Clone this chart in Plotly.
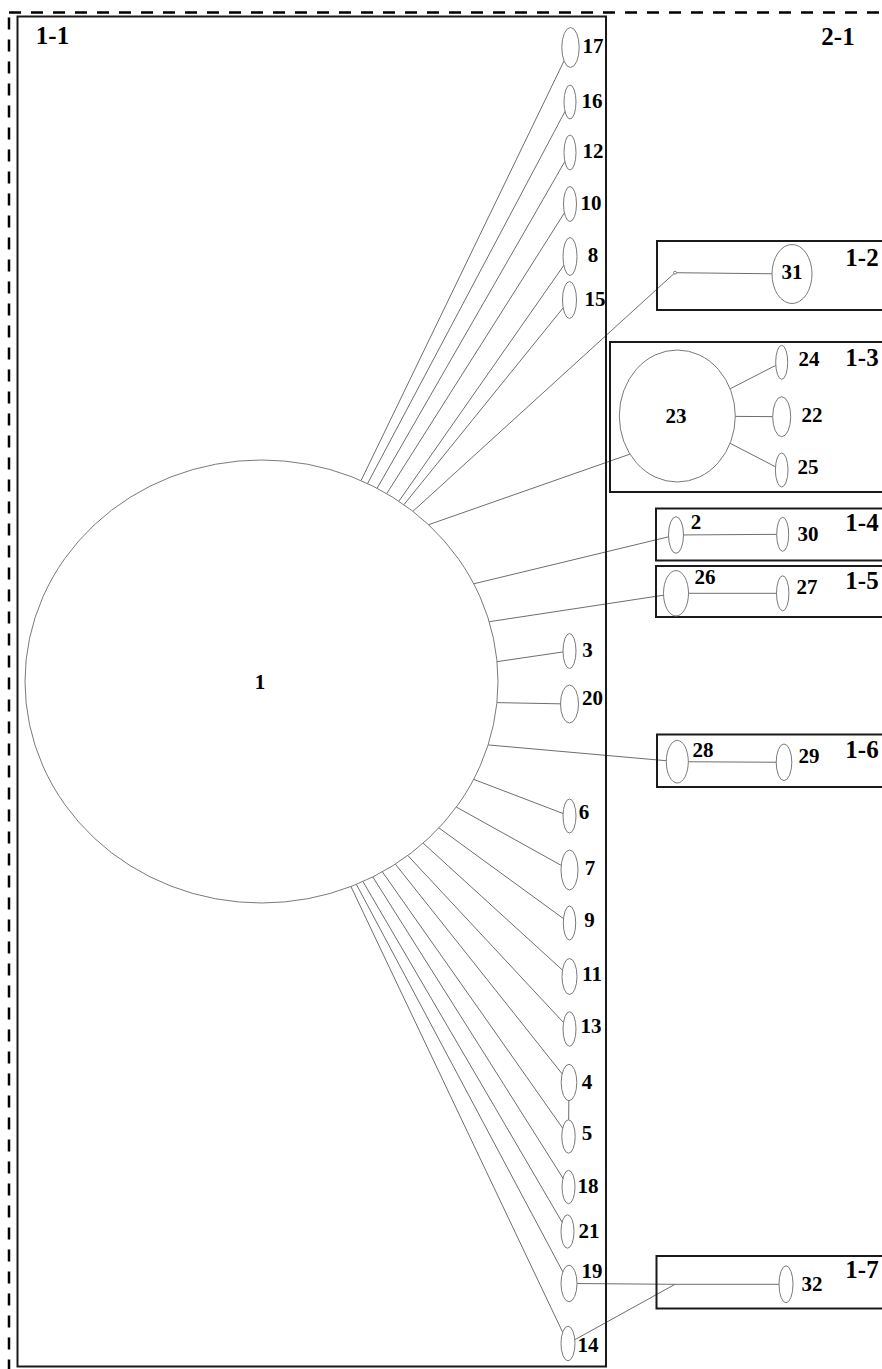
import math
import plotly.graph_objects as go

# ---------------- data ----------------
node_ids = ["1", "17", "16", "12", "10", "8", "15", "3", "20", "6", "7", "9", "11", "13",
            "4", "5", "18", "21", "19", "14",
            "p12", "31", "23", "24", "22", "25", "2", "30", "26", "27", "28", "29", "p17", "32"]
node_labels = ["1", "17", "16", "12", "10", "8", "15", "3", "20", "6", "7", "9", "11", "13",
               "4", "5", "18", "21", "19", "14",
               "", "31", "23", "24", "22", "25", "2", "30", "26", "27", "28", "29", "", "32"]

# hub edges: (target, leaving angle on hub ellipse in degrees)
hub_targets = ["17", "16", "12", "10", "8", "15", "p12", "23", "2", "26", "3", "20", "28",
               "6", "7", "9", "11", "13", "4", "5", "18", "21", "19", "14"]
hub_angles = [-65.1, -63.35, -60.74, -58.03, -54.48, -52.97, -50.2, -45.06, -26.17, -15.66,
              -5.14, 5.47, 16.64, 26.22, 34.53, 41.38, 46.87, 51.79, 55.53, 59.26, 61.93,
              64.59, 66.34, 67.78]
hub_end_angle = {"23": 144.7}

# other edges
edges = [("p12", "31"), ("23", "24"), ("23", "22"), ("23", "25"), ("2", "30"),
         ("26", "27"), ("28", "29"), ("4", "5"), ("19", "p17"), ("14", "p17"), ("p17", "32")]

# group boxes
group_names = ["1-2", "1-3", "1-4", "1-5", "1-6", "1-7"]

# ---------------- layout (positions / sizes) ----------------
node_x = [261.5, 570.5, 570, 570, 570, 570, 569.5, 569.5, 569.5, 569.5, 569.5, 569.5, 569.5, 569.5,
          569, 568.5, 568.5, 567.5, 569, 568,
          675, 792, 677.3, 781.7, 781.7, 781.7, 676, 782.7, 676, 782.7, 677.3, 784, 675, 786]
node_y = [681.5, 47.5, 102, 152.5, 204, 256.5, 300, 651, 704, 816, 870, 923, 976.5, 1029,
          1082.5, 1136.5, 1187, 1231.5, 1283.5, 1343.5,
          272.7, 274, 416, 362.3, 416.7, 470, 535, 534.3, 593.3, 593.3, 761.7, 762.3, 1284.3, 1284.3]
node_rx = [236.5, 8.7, 6, 6, 6.5, 7, 7, 6.5, 9, 6.5, 8.5, 6.2, 7.5, 6.5,
           7.8, 6.7, 6.5, 6.5, 8, 7,
           1.5, 20, 58, 6, 9, 6.3, 7.5, 6, 12.5, 6.2, 11, 7.8, 0, 7]
node_ry = [221.5, 20, 17, 17.5, 17.5, 19, 18.5, 17.5, 19, 17, 20, 17, 18, 17.3,
           18.2, 16.7, 16.7, 16.7, 18.3, 17.3,
           1.5, 29.5, 66, 17, 20, 17, 18.3, 17, 22.7, 17.5, 21.3, 18.3, 0, 18.5]
label_x = [260, 593, 592, 593, 591, 593, 595, 587.5, 592.5, 584, 590, 589.5, 592, 591,
           587, 587, 588, 589, 592, 588,
           0, 792, 676, 809, 812, 808, 696, 808, 705, 807, 703, 809, 0, 812]
label_y = [684, 48, 103, 153, 205, 257, 301, 652, 700, 814, 870, 922, 976, 1028,
           1084, 1135, 1188, 1233, 1273, 1347,
           0, 274, 418, 361, 417, 469, 524, 536, 579, 589, 752, 758, 0, 1286]

box_x0 = [657, 610, 656, 656, 657, 656.5]
box_y0 = [241, 342, 508.5, 566, 734.5, 1256]
box_y1 = [310, 492, 560.5, 617, 787, 1308.5]
box_label_x = [862, 862, 862, 862, 862, 862]
box_label_y = [260, 360, 525, 583, 752, 1272]

W, H = 882, 1369
idx = {n: i for i, n in enumerate(node_ids)}


def on_ellipse(n, ang):
    i = idx[n]
    a = math.radians(ang)
    return node_x[i] + node_rx[i] * math.cos(a), node_y[i] + node_ry[i] * math.sin(a)


def toward(n, tx, ty):
    i = idx[n]
    cx, cy, rx, ry = node_x[i], node_y[i], node_rx[i], node_ry[i]
    if rx == 0 or ry == 0:
        return cx, cy
    dx, dy = tx - cx, ty - cy
    s = 1.0 / math.sqrt((dx / rx) ** 2 + (dy / ry) ** 2)
    return cx + s * dx, cy + s * dy


ex, ey = [], []
for t, ang in zip(hub_targets, hub_angles):
    x1, y1 = on_ellipse("1", ang)
    if t in hub_end_angle:
        x2, y2 = on_ellipse(t, hub_end_angle[t])
    else:
        x2, y2 = toward(t, x1, y1)
    ex += [x1, x2, None]
    ey += [y1, y2, None]
for a, b in edges:
    ia, ib = idx[a], idx[b]
    x1, y1 = toward(a, node_x[ib], node_y[ib])
    x2, y2 = toward(b, node_x[ia], node_y[ia])
    ex += [x1, x2, None]
    ey += [y1, y2, None]

shapes = []
# outer dashed frame
shapes.append(dict(type="rect", xref="x", yref="y", x0=9, y0=12.5, x1=W + 50, y1=H + 50,
                   line=dict(color="black", width=2.5, dash="12px,10px")))
# main group box 1-1
shapes.append(dict(type="rect", xref="x", yref="y", x0=17.5, y0=16.5, x1=606, y1=1366.5,
                   line=dict(color="#1a1a1a", width=2)))
for x0, y0, y1 in zip(box_x0, box_y0, box_y1):
    shapes.append(dict(type="rect", xref="x", yref="y", x0=x0, y0=y0, x1=W + 50, y1=y1,
                       line=dict(color="#1a1a1a", width=2)))
for n, cx, cy, rx, ry in zip(node_ids, node_x, node_y, node_rx, node_ry):
    if rx <= 0:
        continue
    shapes.append(dict(type="circle", xref="x", yref="y", x0=cx - rx, x1=cx + rx,
                       y0=cy - ry, y1=cy + ry, line=dict(color="#7a7a7a", width=1)))

fig = go.Figure()
fig.add_trace(go.Scatter(x=ex, y=ey, mode="lines", line=dict(color="#6e6e6e", width=1),
                         hoverinfo="skip", showlegend=False))
lx = [x for x, l in zip(label_x, node_labels) if l]
ly = [y for y, l in zip(label_y, node_labels) if l]
lt = [l for l in node_labels if l]
fig.add_trace(go.Scatter(x=lx, y=ly, text=lt, mode="text", textposition="middle center",
                         textfont=dict(family="Liberation Serif", size=21, color="black", weight="bold"),
                         hoverinfo="skip", showlegend=False))
fig.add_trace(go.Scatter(x=[52.5, 838] + box_label_x, y=[38, 39] + box_label_y,
                         text=["1-1", "2-1"] + group_names, mode="text", textposition="middle center",
                         textfont=dict(family="Liberation Serif", size=25, color="black", weight="bold"),
                         hoverinfo="skip", showlegend=False))

fig.update_layout(width=W, height=H, margin=dict(l=0, r=0, t=0, b=0), autosize=False,
                  paper_bgcolor="white", plot_bgcolor="white", shapes=shapes,
                  xaxis=dict(range=[0, W], visible=False, fixedrange=True),
                  yaxis=dict(range=[H, 0], visible=False, fixedrange=True))
fig.write_html("out.html", config={"displayModeBar": False},
               post_script="document.body.style.margin='0';document.body.style.padding='0';"
                           "document.body.style.overflow='hidden';")
